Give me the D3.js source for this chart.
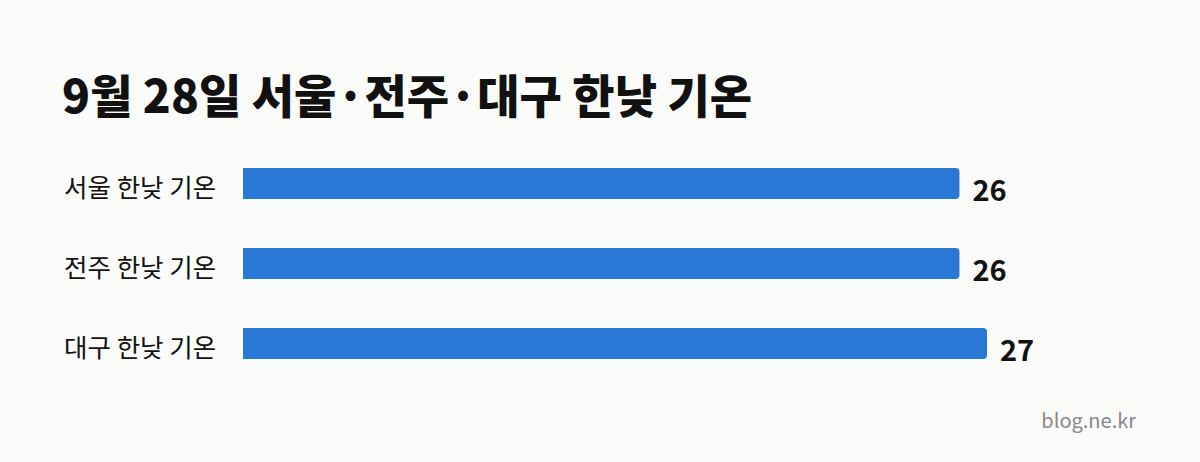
<!DOCTYPE html>
<html>
<head>
<meta charset="utf-8">
<script src="https://cdn.jsdelivr.net/npm/d3@7"></script>
<style>
  html, body { margin: 0; padding: 0; background: #fbfbf9; }
  svg { display: block; }
  text { font-family: "Noto Sans CJK KR", "Noto Sans", sans-serif; }
</style>
</head>
<body>
<div id="main"></div>
<script>
var W = 1200, H = 462;

var title = "9월 28일 서울·전주·대구 한낮 기온";
var categories = ["서울 한낮 기온", "전주 한낮 기온", "대구 한낮 기온"];
var values = [26, 26, 27];
var source = "blog.ne.kr";

var svg = d3.select("#main").append("svg")
    .attr("width", W)
    .attr("height", H);

svg.append("rect")
    .attr("width", W)
    .attr("height", H)
    .attr("fill", "#fbfbf9");

svg.append("text")
    .attr("x", 62)
    .attr("y", 113)
    .attr("font-size", 46)
    .attr("font-weight", 900)
    .attr("fill", "#111")
    .text(title);

var x = d3.scaleLinear().domain([0, 27]).range([243, 987]);
// step 80px, bars 31px tall, first bar at y=168
var y = d3.scaleBand()
    .domain(categories)
    .range([152, 375])
    .paddingInner(0.6125)
    .paddingOuter(0.2);

// bar with square left side and rounded right side
var barPath = function (x0, x1, y0, h, r) {
    return "M" + x0 + "," + y0 +
        "H" + (x1 - r) +
        "Q" + x1 + "," + y0 + " " + x1 + "," + (y0 + r) +
        "V" + (y0 + h - r) +
        "Q" + x1 + "," + (y0 + h) + " " + (x1 - r) + "," + (y0 + h) +
        "H" + x0 + "Z";
};

var rows = svg.append("g").selectAll("g")
    .data(categories)
    .enter()
    .append("g");

rows.append("path")
    .attr("d", (d, i) => barPath(x(0), x(values[i]), y(d), y.bandwidth(), 4))
    .attr("fill", "#2a78d6");

rows.append("text")
    .attr("x", 64)
    .attr("y", (d) => y(d) + y.bandwidth() - 2)
    .attr("font-size", 25.5)
    .attr("fill", "#111")
    .text((d) => d);

rows.append("text")
    .attr("x", (d, i) => x(values[i]) + 13)
    .attr("y", (d) => y(d) + y.bandwidth() + 1.5)
    .attr("font-size", 29)
    .attr("font-weight", 700)
    .attr("fill", "#111")
    .text((d, i) => values[i]);

svg.append("text")
    .attr("x", 1136)
    .attr("y", 428)
    .attr("text-anchor", "end")
    .attr("font-size", 20)
    .attr("fill", "#888")
    .text(source);
</script>
</body>
</html>
